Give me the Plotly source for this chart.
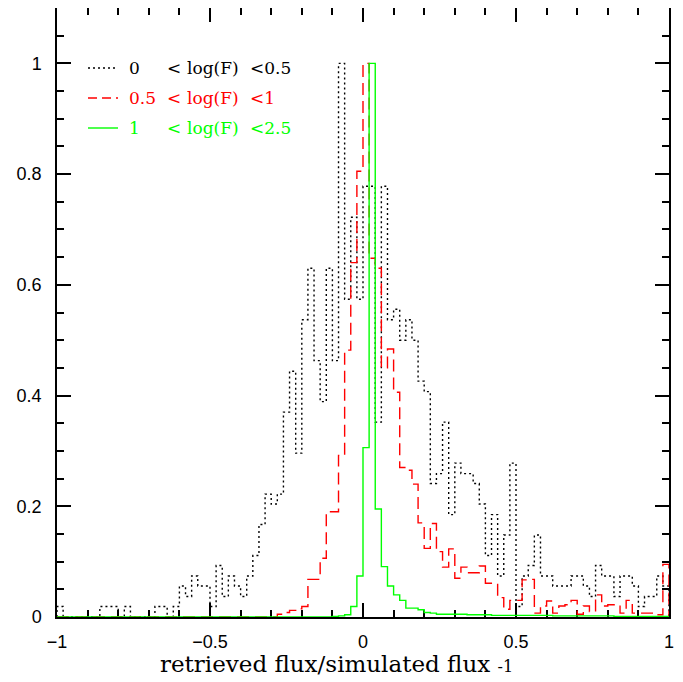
import numpy as np
import plotly.graph_objects as go

# ---- data: histograms (normalised to peak = 1), 100 bins of width 0.02 from -1 to 1
bin_edges = np.round(np.linspace(-1.0, 1.0, 101), 2)

black_low = [  # 0 < log(F) < 0.5
    0.019, 0, 0, 0, 0, 0, 0, 0.019, 0.019, 0.019,
    0, 0.019, 0, 0, 0, 0, 0.019, 0.019, 0, 0.019,
    0.056, 0.037, 0.074, 0.056, 0.056, 0.019, 0.093, 0.037, 0.074, 0.056,
    0.037, 0.074, 0.111, 0.167, 0.222, 0.204, 0.222, 0.370, 0.444, 0.296,
    0.537, 0.630, 0.463, 0.389, 0.630, 0.463, 1.000, 0.574, 0.722, 0.574,
    0.778, 0.778, 0.352, 0.778, 0.537, 0.556, 0.500, 0.537, 0.500, 0.426,
    0.407, 0.241, 0.259, 0.352, 0.185, 0.278, 0.259, 0.259, 0.241, 0.204,
    0.111, 0.185, 0.074, 0.148, 0.278, 0.019, 0.074, 0.093, 0.148, 0.074,
    0.074, 0.056, 0.056, 0.056, 0.074, 0.074, 0.056, 0.037, 0.093, 0.074,
    0.074, 0.037, 0.074, 0.074, 0.056, 0.019, 0.037, 0.037, 0.074, 0.056,
]

red_mid = [  # 0.5 < log(F) < 1
    0, 0, 0, 0, 0, 0, 0, 0, 0, 0,
    0, 0, 0, 0, 0, 0, 0, 0, 0, 0,
    0, 0, 0, 0, 0, 0, 0, 0, 0, 0,
    0, 0, 0, 0, 0, 0, 0.005, 0.008, 0.012, 0.015,
    0.019, 0.068, 0.068, 0.106, 0.190, 0.190, 0.292, 0.482, 0.640, 0.805,
    1.000, 0.648, 0.630, 0.450, 0.484, 0.406, 0.270, 0.265, 0.240, 0.170,
    0.124, 0.169, 0.118, 0.090, 0.123, 0.070, 0.090, 0.080, 0.080, 0.092,
    0.061, 0.061, 0.035, 0.014, 0.030, 0.030, 0.067, 0.068, 0.007, 0.020,
    0.029, 0.007, 0.020, 0.022, 0.030, 0.005, 0.020, 0.010, 0.040, 0.020,
    0.022, 0.022, 0.007, 0.030, 0.007, 0.007, 0.007, 0.007, 0.004, 0.095,
]

green_high = [  # 1 < log(F) < 2.5
    0, 0, 0, 0, 0, 0, 0, 0, 0, 0,
    0, 0, 0, 0, 0, 0, 0, 0, 0, 0,
    0, 0, 0, 0, 0, 0, 0, 0, 0, 0,
    0, 0, 0, 0, 0, 0, 0, 0, 0, 0,
    0, 0, 0, 0, 0, 0.001, 0.002, 0.004, 0.019, 0.074,
    0.306, 1.000, 0.195, 0.091, 0.056, 0.040, 0.030, 0.016, 0.016, 0.013,
    0.008, 0.007, 0.005, 0.005, 0.005, 0.005, 0.005, 0.004, 0.004, 0.004,
    0.004, 0.003, 0.003, 0.003, 0.003, 0.003, 0.003, 0.003, 0.003, 0.003,
    0.003, 0.002, 0.002, 0.002, 0.002, 0.002, 0.002, 0.002, 0.002, 0.002,
    0.002, 0.001, 0.001, 0.001, 0.001, 0.001, 0.001, 0.001, 0.001, 0.001,
]

series_names = ["0", "0.5", "1"]
series_upper = ["<0.5", "<1", "<2.5"]
series_colors = ["#000000", "#ff0000", "#00ff00"]
series_dash = ["2px,3px", "12px,6px", "solid"]

x_tickvals = [-1, -0.5, 0, 0.5, 1]
x_ticktext = ["\u22121", "\u22120.5", "0", "0.5", "1"]
y_tickvals = [0, 0.2, 0.4, 0.6, 0.8, 1]
y_ticktext = ["0", "0.2", "0.4", "0.6", "0.8", "1"]


def step_xy(values):
    xs = [bin_edges[0]] + list(bin_edges[:-1]) + [bin_edges[-1]]
    ys = [0] + list(values) + [0]
    return xs, ys


fig = go.Figure()
for vals, col, dash in zip([black_low, red_mid, green_high], series_colors, series_dash):
    xs, ys = step_xy(vals)
    fig.add_trace(go.Scatter(x=xs, y=ys, mode="lines", line_shape="hv",
                             line=dict(color=col, width=1.4, dash=dash),
                             showlegend=False, hoverinfo="skip"))

# ---- page geometry (the page body adds an 8px offset, compensate for it)
W, H = 683, 682
OFF = 8
PL, PR, PT, PB = 57, 669, 8, 617          # wanted plot-area edges on screen
L, R, T, B = PL - OFF, W - PR + OFF, PT - OFF, H - PB + OFF
pw, ph = W - L - R, H - T - B


def px2paper(px, py):
    return (px - OFF - L) / pw, (H - B - (py - OFF)) / ph


rows_py = [68, 98, 128]
for i, py in enumerate(rows_py):
    x0, y0 = px2paper(88, py)
    x1, _ = px2paper(118, py)
    fig.add_shape(type="line", xref="paper", yref="paper", x0=x0, x1=x1, y0=y0, y1=y0,
                  line=dict(color=series_colors[i], width=1.4,
                            dash=("2px,3px" if i == 0 else ("9px,5px" if i == 1 else "solid"))))
    for px, txt in [(127, series_names[i]), (165, "<"), (185, "log(F)"), (248, series_upper[i])]:
        xa, ya = px2paper(px, py)
        fig.add_annotation(x=xa, y=ya, xref="paper", yref="paper", text=txt,
                           showarrow=False, xanchor="left", yanchor="middle",
                           font=dict(family="DejaVu Serif", size=17, color=series_colors[i]))

# x-axis title as an annotation below the plot
tx, ty = px2paper(336, 664)
fig.add_annotation(x=tx, y=ty, xref="paper", yref="paper",
                   text="retrieved flux/simulated flux <span style='font-size:16px'>-1</span>",
                   showarrow=False, xanchor="center", yanchor="middle",
                   font=dict(family="DejaVu Serif", size=23, color="black"))

axis_common = dict(showline=True, linecolor="black", linewidth=1.5, mirror="allticks",
                   ticks="inside", tickcolor="black", tickwidth=1.5, ticklen=14,
                   showgrid=False, zeroline=False, layer="below traces", automargin=False,
                   tickfont=dict(family="Liberation Sans", size=18, color="black"))

fig.update_xaxes(range=[-1, 1], tickvals=x_tickvals, ticktext=x_ticktext,
                 minor=dict(dtick=0.1, tick0=0, ticks="inside", ticklen=7, tickwidth=1.5,
                            tickcolor="black", showgrid=False),
                 ticklabelstandoff=8,
                 **axis_common)
fig.update_yaxes(range=[0, 1.1], tickvals=y_tickvals, ticktext=y_ticktext,
                 minor=dict(dtick=0.05, tick0=0, ticks="inside", ticklen=7, tickwidth=1.5,
                            tickcolor="black", showgrid=False),
                 ticklabelstandoff=10,
                 **axis_common)

fig.update_layout(width=W, height=H, margin=dict(l=L, r=R, t=T, b=B, autoexpand=False),
                  paper_bgcolor="white", plot_bgcolor="white", showlegend=False)

fig.write_html("out.html")
